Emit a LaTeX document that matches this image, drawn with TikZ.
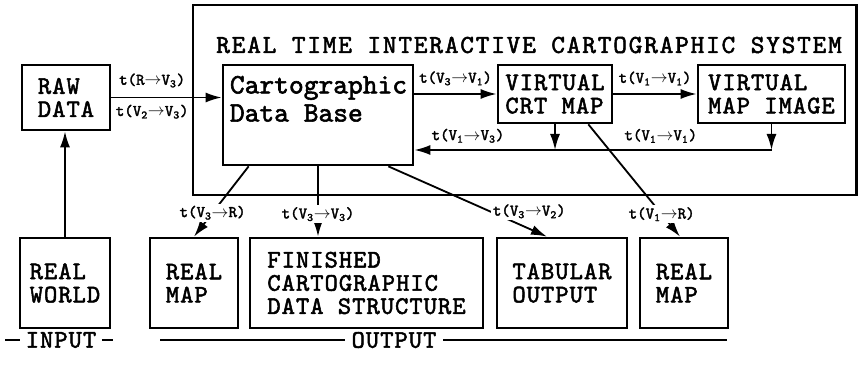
\documentclass[tikz,border=0pt]{standalone}
\usepackage{fontspec}
\newfontfamily\typefont{lmmono10-regular}[Extension=.otf,FakeBold=2]
\usetikzlibrary{arrows.meta,positioning,calc}

% transfer label t(a->b)
\newcommand{\trans}[2]{t(#1\(\rightarrow\)#2)}

\tikzset{
  box/.style={draw,line width=1.9pt,align=left,inner sep=0pt,
    font=\typefont\fontsize{18}{16.5}\selectfont\addfontfeatures{LetterSpace=4}},
  boxtext/.style={align=left,inner sep=0pt,
    font=\typefont\fontsize{20}{20}\selectfont},
  headline/.style={inner sep=0pt,
    font=\typefont\fontsize{18.5}{18.5}\selectfont\addfontfeatures{LetterSpace=7}},
  tlabel/.style={inner sep=1.5pt,font=\typefont\fontsize{11.5}{12}\selectfont},
  conn/.style={line width=1.3pt,-{Latex[length=4mm,width=2.5mm]}},
  rule/.style={line width=1.3pt},
}

\begin{document}
\begin{tikzpicture}[x=0.025cm,y=-0.025cm]
\useasboundingbox (0,0) rectangle (860,367);

% system frame and its heading
\node[box,line width=2pt,minimum width=16.575cm,minimum height=4.75cm] (sys) at (524.5,100) {};
\node[headline,anchor=west] (systitle) at (216,45) {REAL TIME INTERACTIVE CARTOGRAPHIC SYSTEM};

%input side
\node[box,minimum width=2.2cm,minimum height=1.625cm] (raw) at (66,97.5) {RAW\\DATA};
\node[box,minimum width=2.25cm,minimum height=2.25cm] (world) at (65,283) {REAL\\WORLD};

%inside the system
\node[box,minimum width=4.75cm,minimum height=2.5cm] (cdb) at (318,115) {};
\node[boxtext,anchor=north west] (cdbtxt) at ([xshift=0.2cm,yshift=-0.3cm]cdb.north west) {Cartographic\\Data Base};
\node[box,minimum width=2.85cm,minimum height=1.45cm] (crt) at (555,94) {VIRTUAL\\CRT MAP};
\node[box,minimum width=3.675cm,minimum height=1.45cm] (vmi) at (771.5,94) {VIRTUAL\\MAP IMAGE};

%outputs
\node[box,minimum width=2.2cm,minimum height=2.25cm] (rmap) at (194,283) {REAL\\MAP};
\node[box,minimum width=5.825cm,minimum height=2.25cm] (fin) at (366.5,283) {FINISHED\\CARTOGRAPHIC\\DATA STRUCTURE};
\node[box,minimum width=3.25cm,minimum height=2.25cm] (tab) at (562,283) {TABULAR\\OUTPUT};
\node[box,minimum width=2.2cm,minimum height=2.25cm] (rmapb) at (684,283) {REAL\\MAP};

% flow into the data base
\draw[conn] (world.north) -- (world.north |- raw.south);
\draw[conn] (raw.east) -- (raw.east -| cdb.west)
  node[tlabel,pos=0.37,above=5pt] (lrv) {\trans{R}{V\textsubscript{3}}}
  node[tlabel,pos=0.37,below=3pt] (lvv) {\trans{V\textsubscript{2}}{V\textsubscript{3}}};
\draw[conn] (crt.west -| cdb.east) -- (crt.west)
  node[tlabel,midway,above=4pt] (lcdbcrt) {\trans{V\textsubscript{3}}{V\textsubscript{1}}};
\draw[conn] (crt.east) -- (vmi.west)
  node[tlabel,midway,above=4pt] (lcrtvmi) {\trans{V\textsubscript{1}}{V\textsubscript{1}}};

% return path
\coordinate (ret) at (0,150);
\draw[conn] (vmi.south) -- (vmi.south |- ret);
\draw[conn] (crt.south) -- (crt.south |- ret);
\draw[conn] (vmi.south |- ret) -- (cdb.east |- ret)
  node[tlabel,pos=0.31,above=3pt] (lvmiret) {\trans{V\textsubscript{1}}{V\textsubscript{1}}}
  node[tlabel,pos=0.85,above=3pt] (lcrtret) {\trans{V\textsubscript{1}}{V\textsubscript{3}}};

% out of the system
\draw[conn] ([xshift=0.675cm]cdb.south west) -- (rmap.north)
  node[tlabel,pos=0.66,fill=white] (lrmap) {\trans{V\textsubscript{3}}{R}};
\draw[conn] (cdb.south) -- (cdb.south |- fin.north)
  node[tlabel,pos=0.68,fill=white] (lfin) {\trans{V\textsubscript{3}}{V\textsubscript{3}}};
\draw[conn] ([xshift=-0.65cm]cdb.south east) -- ([xshift=-0.375cm]tab.north)
  node[tlabel,pos=0.64,anchor=west,fill=white] (ltab) {\trans{V\textsubscript{3}}{V\textsubscript{2}}};
\draw[conn] ([xshift=-0.625cm]crt.south east) -- ([xshift=-0.1cm]rmapb.north)
  node[tlabel,pos=0.8,fill=white] (lrmapb) {\trans{V\textsubscript{1}}{R}};

%legend
\node[box,draw=none] (input) at (61,340) {INPUT};
\node[box,draw=none] (output) at (394,340) {OUTPUT};
\coordinate (inl) at (5,340);
\coordinate (inr) at (113,340);
\coordinate (outl) at (160,340);
\coordinate (outr) at (727,340);
\draw[rule] (inl) -- ([xshift=-3pt]input.west);
\draw[rule] ([xshift=3pt]input.east) -- (inr);
\draw[rule] (outl) -- ([xshift=-4pt]output.west);
\draw[rule] ([xshift=4pt]output.east) -- (outr);

  \end{tikzpicture}
\end{document}
